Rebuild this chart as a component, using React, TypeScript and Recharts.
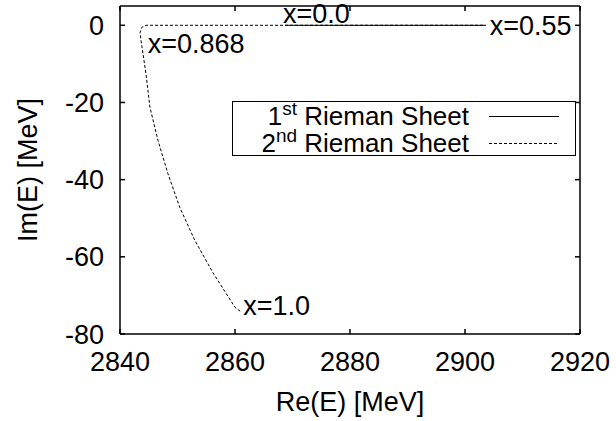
import { LineChart, Line, XAxis, YAxis, Legend, ReferenceDot } from 'recharts';

const RE_TICKS = [2840, 2860, 2880, 2900, 2920];
const IM_TICKS = [-80, -60, -40, -20, 0];

// 1st Riemann sheet, x = 0.0 -> 0.55
const SHEET1_RE = [2868.7, 2903.6];
const SHEET1_IM = [0, 0];

// 2nd Riemann sheet, x = 1.0 -> 0.868 -> 0.55
const SHEET2_RE = [2860.9, 2860.0, 2856.2, 2853.0, 2850.4, 2848.3, 2846.6, 2845.2, 2844.5, 2843.65, 2843.5, 2843.8, 2844.5, 2850, 2870, 2903.6];
const SHEET2_IM = [-74.1, -73.1, -64.2, -55.7, -47.2, -38.3, -29.8, -21.2, -12.4, -3.9, -1.8, -0.5, 0, 0, 0, 0];

const MARK_TEXT = ['x=0.0', 'x=0.55', 'x=0.868', 'x=1.0'];
const MARK_RE = [2868.7, 2903.6, 2843.6, 2860.9];
const MARK_IM = [0, 0, -3.9, -74.1];

const SHEET_NUM = ['1', '2'];
const SHEET_SUP = ['st', 'nd'];

const FONT = '"Liberation Sans", Arial, sans-serif';
const FS = 27;
const MARK_OFFSET = [
  [-2, -2],
  [4, 10],
  [7, 13],
  [3, 4],
];
const DASHES = ['', '3 2'];

const sheet1 = SHEET1_RE.map((re, i) => ({ re, im: SHEET1_IM[i] }));
const sheet2 = SHEET2_RE.map((re, i) => ({ re, im: SHEET2_IM[i] }));

const tickStyle = { fontSize: FS, fontFamily: FONT, fill: '#000' };
const blank = () => '';

function LegendBox() {
  return (
    <div
      style={{
        width: 344,
        height: 55,
        boxSizing: 'border-box',
        border: '1px solid #000',
        background: '#fff',
        fontFamily: FONT,
        fontSize: 26,
        paddingTop: 1,
      }}
    >
      {SHEET_NUM.map((n, i) => (
        <div key={n} style={{ display: 'flex', alignItems: 'center', height: 27, lineHeight: '27px' }}>
          <span style={{ width: 236, textAlign: 'right', whiteSpace: 'nowrap' }}>
            {n}
            <span style={{ fontSize: 19, position: 'relative', top: -10, lineHeight: 0 }}>{SHEET_SUP[i]}</span>
            {' Rieman Sheet'}
          </span>
          <svg width={90} height={27} style={{ display: 'block' }}>
            <line x1={20} x2={90} y1={13.5} y2={13.5} stroke="#000" strokeWidth={1} strokeDasharray={DASHES[i] || undefined} />
          </svg>
        </div>
      ))}
    </div>
  );
}

function YLabel(props: any) {
  const vb = props.viewBox || {};
  const cx = vb.x + 28;
  const cy = vb.y + vb.height / 2;
  return (
    <text x={cx} y={cy} transform={`rotate(-90 ${cx} ${cy})`} textAnchor="middle" dominantBaseline="central" fontSize={FS} fontFamily={FONT} fill="#000">
      Im(E) [MeV]
    </text>
  );
}

function XLabel(props: any) {
  const vb = props.viewBox || {};
  const cx = vb.x + vb.width / 2;
  const cy = vb.y + 68;
  return (
    <text x={cx} y={cy} textAnchor="middle" dominantBaseline="central" fontSize={FS} fontFamily={FONT} fill="#000">
      Re(E) [MeV]
    </text>
  );
}

export default function App() {
  return (
    <div style={{ position: 'absolute', left: 0, top: 0, width: 616, height: 421, background: '#fff' }}>
      <LineChart width={616} height={421} margin={{ top: 0, right: 0, bottom: 0, left: 0 }}>
        <XAxis
          xAxisId="b"
          dataKey="re"
          type="number"
          domain={[2840, 2920]}
          ticks={RE_TICKS}
          interval={0}
          allowDataOverflow
          height={87}
          tickSize={-5}
          tickMargin={23}
          tick={tickStyle}
          stroke="#000"
          strokeWidth={1.5}
          label={<XLabel />}
        />
        <XAxis
          xAxisId="t"
          orientation="top"
          dataKey="re"
          type="number"
          domain={[2840, 2920]}
          ticks={RE_TICKS}
          interval={0}
          allowDataOverflow
          height={6}
          tickSize={-5}
          tickFormatter={blank}
          stroke="#000"
          strokeWidth={1.5}
        />
        <YAxis
          yAxisId="l"
          dataKey="im"
          type="number"
          domain={[-80, 5]}
          ticks={IM_TICKS}
          interval={0}
          allowDataOverflow
          width={120}
          tickSize={-5}
          tickMargin={21}
          tick={tickStyle}
          stroke="#000"
          strokeWidth={1.5}
          label={<YLabel />}
        />
        <YAxis
          yAxisId="r"
          orientation="right"
          type="number"
          domain={[-80, 5]}
          ticks={IM_TICKS}
          interval={0}
          allowDataOverflow
          width={36}
          tickSize={-5}
          tickFormatter={blank}
          stroke="#000"
          strokeWidth={1.5}
        />
        <Legend
          layout="vertical"
          align="center"
          verticalAlign="middle"
          content={<LegendBox />}
          wrapperStyle={{ position: 'absolute', left: 232, top: 101, width: 344, height: 55 }}
        />
        <Line
          xAxisId="b"
          yAxisId="l"
          data={sheet2}
          dataKey="im"
          name="2nd Rieman Sheet"
          type="linear"
          stroke="#000"
          strokeWidth={1}
          strokeDasharray="3 2"
          dot={false}
          isAnimationActive={false}
        />
        <Line
          xAxisId="b"
          yAxisId="l"
          data={sheet1}
          dataKey="im"
          name="1st Rieman Sheet"
          type="linear"
          stroke="#000"
          strokeWidth={1}
          dot={false}
          isAnimationActive={false}
        />
        {MARK_TEXT.map((t, i) => (
          <ReferenceDot
            key={t}
            xAxisId="b"
            yAxisId="l"
            x={MARK_RE[i]}
            y={MARK_IM[i]}
            r={1}
            shape={(p: any) => (
              <text x={p.cx + MARK_OFFSET[i][0]} y={p.cy + MARK_OFFSET[i][1]} fontSize={FS} fontFamily={FONT} fill="#000">
                {t}
              </text>
            )}
          />
        ))}
      </LineChart>
    </div>
  );
}
